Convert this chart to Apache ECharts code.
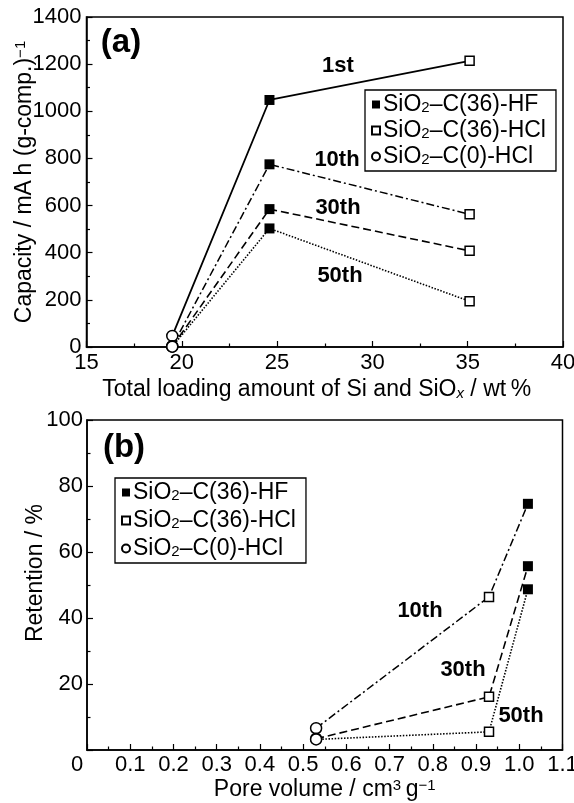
<!DOCTYPE html>
<html><head><meta charset="utf-8">
<script src="https://cdn.jsdelivr.net/npm/echarts@6/dist/echarts.min.js"></script>
<style>html,body{margin:0;padding:0;background:#fff}#c{width:574px;height:803px}</style>
</head><body><div id="c"></div>
<script>
// ---------- Data: panel (a) ----------
const materials = ['SiO2\u2013C(36)-HF', 'SiO2\u2013C(36)-HCl', 'SiO2\u2013C(0)-HCl'];
const loadingX = [19.5, 24.6, 35.1];                 // wt %
const loadingMat = [materials[2], materials[0], materials[1]];
const cap1st = [47, 1048, 1214];
const cap10th = [3, 775, 563];
const cap30th = [2, 585, 408];
const cap50th = [1.5, 503, 194];
const capCycles = ['1st', '10th', '30th', '50th'];

// ---------- Data: panel (b) ----------
const poreX = [0.53, 0.93, 1.02];                    // cm3 g-1
const poreMat = [materials[2], materials[1], materials[0]];
const ret10th = [6.6, 46.4, 74.6];
const ret30th = [3.4, 16.1, 55.7];
const ret50th = [3.2, 5.5, 48.7];
const retCycles = ['10th', '30th', '50th'];

// ---------- Build ----------
const FONT = '"Liberation Sans", Arial, Helvetica, sans-serif';
const matStyle = {};
matStyle[materials[0]] = {symbol: 'rect', symbolSize: 10, itemStyle: {color: '#000', opacity: 1}};
matStyle[materials[1]] = {symbol: 'rect', symbolSize: 9, itemStyle: {color: '#fff', borderColor: '#000', borderWidth: 1.5, opacity: 1}};
matStyle[materials[2]] = {symbol: 'circle', symbolSize: 11, itemStyle: {color: '#fff', borderColor: '#000', borderWidth: 1.5, opacity: 1}};
const dashOf = {'1st': 'solid', '10th': [8, 3, 2, 3], '30th': [8, 4], '50th': [1.5, 1.6]};
const widthOf = {'1st': 1.8, '10th': 1.5, '30th': 1.6, '50th': 1.6};

const series = [];
const capVals = [cap1st, cap10th, cap30th, cap50th];
capCycles.forEach((c, k) => {
  series.push({type: 'line', name: 'a-' + c, xAxisIndex: 0, yAxisIndex: 0, symbol: 'none', silent: true,
    lineStyle: {color: '#000', width: widthOf[c], type: dashOf[c]},
    data: loadingX.map((x, i) => [x, capVals[k][i]])});
});
const retVals = [ret10th, ret30th, ret50th];
retCycles.forEach((c, k) => {
  series.push({type: 'line', name: 'b-' + c, xAxisIndex: 1, yAxisIndex: 1, symbol: 'none', silent: true,
    lineStyle: {color: '#000', width: widthOf[c], type: dashOf[c]},
    data: poreX.map((x, i) => [x, retVals[k][i]])});
});
materials.forEach(m => {
  const ia = loadingMat.indexOf(m);
  series.push(Object.assign({type: 'scatter', name: m, xAxisIndex: 0, yAxisIndex: 0, z: 3,
    data: capVals.map(arr => [loadingX[ia], arr[ia]])}, matStyle[m]));
  const ib = poreMat.indexOf(m);
  series.push(Object.assign({type: 'scatter', name: m, xAxisIndex: 1, yAxisIndex: 1, z: 3,
    data: retVals.map(arr => [poreX[ib], arr[ib]])}, matStyle[m]));
});

const subRich = {
  s: {fontSize: 15, lineHeight: 4, verticalAlign: 'bottom', fontFamily: FONT, color: '#000'},
  i: {fontSize: 15, lineHeight: 5, verticalAlign: 'bottom', fontStyle: 'italic', fontFamily: FONT, color: '#000'},
  p: {fontSize: 15, lineHeight: 8, verticalAlign: 'top', fontFamily: FONT, color: '#000'},
  z: {fontSize: 22, fontFamily: FONT, color: '#000', padding: [0, 20, 0, 0]}
};

function axis(extra, namePad) {
  return Object.assign({
    type: 'value',
    axisLine: {show: true, onZero: false, lineStyle: {color: '#000', width: 1.5}},
    axisTick: {show: true, inside: true, length: 6, lineStyle: {color: '#000', width: 1.2}},
    minorTick: {show: true, splitNumber: 2, length: 3.5, lineStyle: {color: '#000', width: 1.2}},
    splitLine: {show: false},
    nameLocation: 'middle',
    nameMoveOverlap: false,
    nameTextStyle: {color: '#000', fontSize: 23, lineHeight: 23, fontFamily: FONT, rich: subRich, padding: namePad || 0}
  }, extra);
}

function legend(top, left, gap) {
  return {
    data: materials, orient: 'vertical', left: left, top: top,
    itemWidth: 8, itemHeight: 8, itemGap: gap,
    borderColor: '#000', borderWidth: 1.3, borderRadius: 0,
    padding: [3, 10, 3, 6], selectedMode: false,
    formatter: n => n.replace('SiO2', 'SiO{s|2}'),
    textStyle: {color: '#000', fontSize: 23, lineHeight: 22, fontFamily: FONT, padding: [0, 0, 0, -2], rich: subRich}
  };
}

const option = {
  animation: false,
  backgroundColor: '#fff',
  grid: [
    {left: 86.5, top: 17, width: 476.5, height: 330, show: true, borderColor: '#000', borderWidth: 1.5,
      backgroundColor: 'transparent', containLabel: false, outerBoundsMode: 'none'},
    {left: 87, top: 420, width: 475.5, height: 330, show: true, borderColor: '#000', borderWidth: 1.5,
      backgroundColor: 'transparent', containLabel: false, outerBoundsMode: 'none'}
  ],
  xAxis: [
    axis({gridIndex: 0, min: 15, max: 40, interval: 5,
      name: 'Total loading amount of Si and SiO{i|x} / wt\u2009%', nameGap: 31,
      axisLabel: {color: '#000', fontSize: 22, fontFamily: FONT, margin: 5, formatter: v => String(v)}}, [0, 16, 0, 0]),
    axis({gridIndex: 1, min: 0, max: 1.1, interval: 0.1,
      name: 'Pore volume / cm{p|3}\u2009g{p|\u22121}', nameGap: 28,
      axisLabel: {color: '#000', fontSize: 22, fontFamily: FONT, margin: 4, rich: subRich,
        formatter: v => (Math.abs(v) < 1e-9 ? '{z|0}' : v.toFixed(1))}})
  ],
  yAxis: [
    axis({gridIndex: 0, min: 0, max: 1400, interval: 200,
      name: 'Capacity / mA\u2009h (g-comp.){p|\u22121}', nameGap: 50, nameRotate: 90,
      axisLabel: {color: '#000', fontSize: 22, fontFamily: FONT, margin: 5, formatter: v => String(v)}}),
    axis({gridIndex: 1, min: 0, max: 100, interval: 20,
      name: 'Retention / %', nameGap: 40, nameRotate: 90,
      axisLabel: {color: '#000', fontSize: 22, fontFamily: FONT, margin: 4, showMinLabel: false,
        formatter: v => (v === 0 ? '' : String(v))}}, [0, 0, 0, 24])
  ],
  legend: [legend(90, 365, 3), legend(478, 115, 5)],
  graphic: [
    {type: 'text', x: 121, y: 43, style: {text: '(a)', font: 'bold 33px ' + FONT, fill: '#000', textAlign: 'center', textVerticalAlign: 'middle'}},
    {type: 'text', x: 124, y: 448, style: {text: '(b)', font: 'bold 33px ' + FONT, fill: '#000', textAlign: 'center', textVerticalAlign: 'middle'}},
    {type: 'text', x: 338, y: 66, style: {text: capCycles[0], font: 'bold 22px ' + FONT, fill: '#000', textAlign: 'center', textVerticalAlign: 'middle'}},
    {type: 'text', x: 337, y: 160, style: {text: capCycles[1], font: 'bold 22px ' + FONT, fill: '#000', textAlign: 'center', textVerticalAlign: 'middle'}},
    {type: 'text', x: 338, y: 208, style: {text: capCycles[2], font: 'bold 22px ' + FONT, fill: '#000', textAlign: 'center', textVerticalAlign: 'middle'}},
    {type: 'text', x: 340, y: 276, style: {text: capCycles[3], font: 'bold 22px ' + FONT, fill: '#000', textAlign: 'center', textVerticalAlign: 'middle'}},
    {type: 'text', x: 420, y: 611, style: {text: retCycles[0], font: 'bold 22px ' + FONT, fill: '#000', textAlign: 'center', textVerticalAlign: 'middle'}},
    {type: 'text', x: 463, y: 670, style: {text: retCycles[1], font: 'bold 22px ' + FONT, fill: '#000', textAlign: 'center', textVerticalAlign: 'middle'}},
    {type: 'text', x: 521, y: 716, style: {text: retCycles[2], font: 'bold 22px ' + FONT, fill: '#000', textAlign: 'center', textVerticalAlign: 'middle'}}
  ],
  series: series
};

const chart = echarts.init(document.getElementById('c'), null, {renderer: 'canvas'});
chart.setOption(option);
</script>
</body></html>
